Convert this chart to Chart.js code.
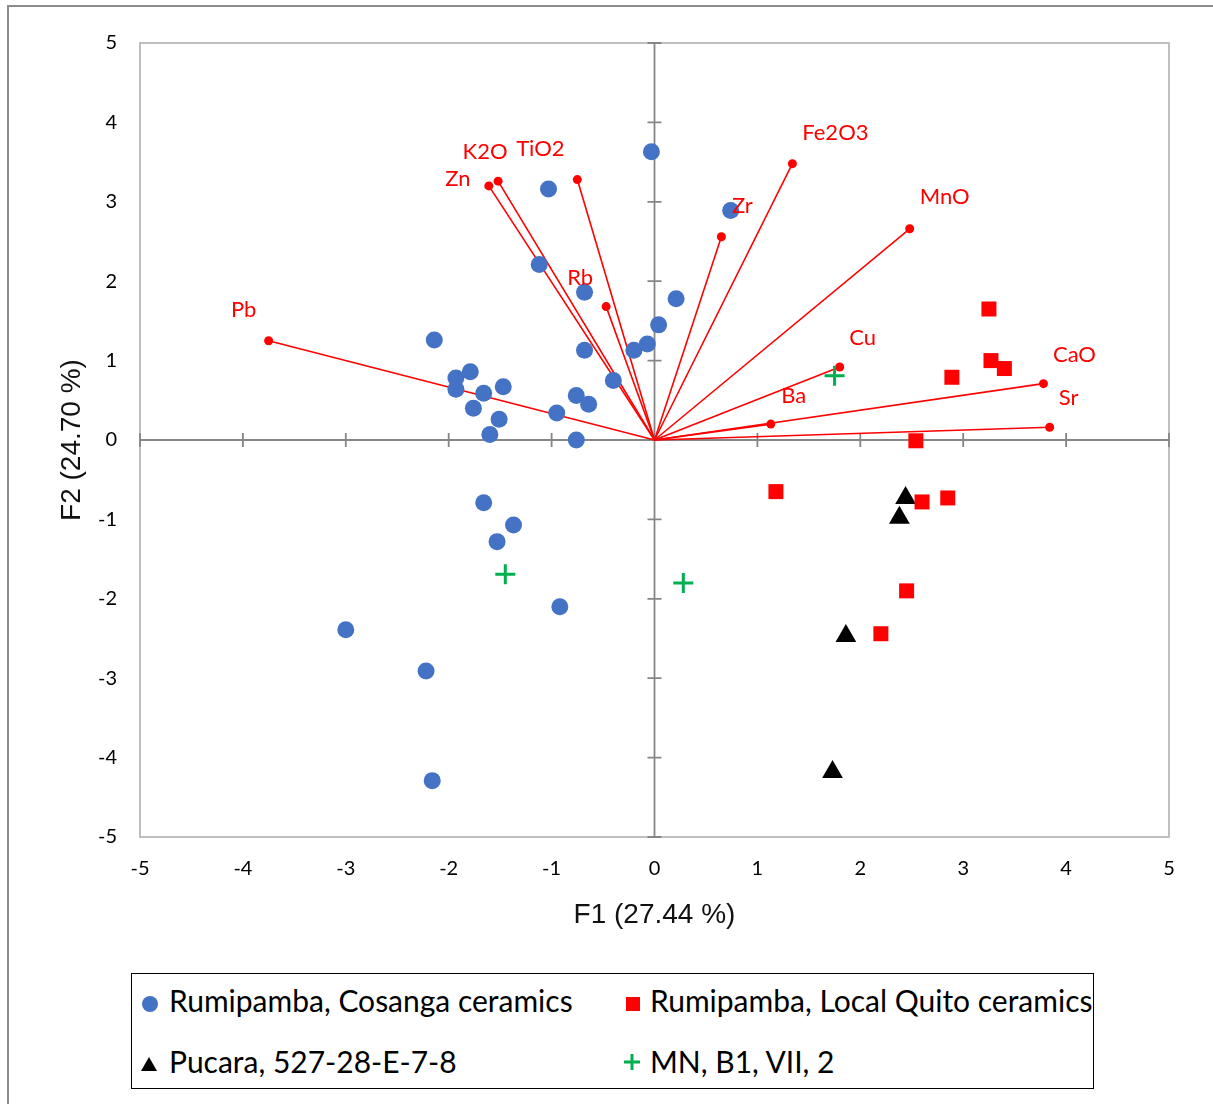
<!DOCTYPE html>
<html>
<head>
<meta charset="utf-8">
<script src="https://cdn.jsdelivr.net/npm/chart.js@4.4.0/dist/chart.umd.min.js"></script>
<style>
  body { margin: 0; background: #fff; width: 1213px; height: 1104px; overflow: hidden; position: relative; font-family: Lato, sans-serif; }
  #frame { position: absolute; left: 7px; top: 5px; width: 1240px; height: 1130px; border: 2px solid #8c8c8c; box-sizing: border-box; }
  #wrap { position: absolute; left: 0; top: 0; width: 1213px; height: 947px; }
  #legend { position: absolute; left: 131px; top: 973px; width: 963px; height: 116px; border: 1.5px solid #000; box-sizing: border-box; }
  .item { position: absolute; font-size: 30px; line-height: 30px; color: #000; white-space: nowrap; }
  .mk { position: absolute; }
</style>
</head>
<body>
<div id="frame"></div>
<div id="wrap"><canvas id="myCanvas" width="1213" height="947"></canvas></div>
<div id="legend">
  <svg class="mk" style="left:9px;top:21px" width="18" height="18"><circle cx="9" cy="9" r="8" fill="#4472c4"/></svg>
  <div class="item" style="left:37px;top:11px">Rumipamba, Cosanga ceramics</div>
  <svg class="mk" style="left:493px;top:22px" width="16" height="16"><rect x="1" y="1" width="14" height="14" fill="#ff0000"/></svg>
  <div class="item" style="left:518px;top:11px">Rumipamba, Local Quito ceramics</div>
  <svg class="mk" style="left:8px;top:81px" width="18" height="18"><polygon points="9,2 17,16 1,16" fill="#000"/></svg>
  <div class="item" style="left:37px;top:72px">Pucara, 527-28-E-7-8</div>
  <svg class="mk" style="left:491px;top:79px" width="18" height="18"><path d="M9 1 V17 M1 9 H17" stroke="#00b050" stroke-width="3"/></svg>
  <div class="item" style="left:518px;top:72px">MN, B1, VII, 2</div>
</div>
<script>
var cosangaX = [-0.03, -1.03, 0.74, -1.12, -0.68, 0.21, 0.04, -2.14, -0.68, -0.20, -0.07, -1.93, -1.79, -1.93, -1.66, -1.47, -1.76, -1.51, -1.60, -0.95, -0.76, -0.64, -0.40, -0.76, -1.66, -1.37, -1.53, -0.92, -3.00, -2.22, -2.16]
var cosangaY = [3.63, 3.16, 2.89, 2.21, 1.86, 1.78, 1.45, 1.26, 1.13, 1.13, 1.21, 0.78, 0.86, 0.64, 0.59, 0.67, 0.40, 0.26, 0.07, 0.34, 0.56, 0.45, 0.75, 0.00, -0.79, -1.07, -1.28, -2.10, -2.39, -2.91, -4.29]

var quitoX = [3.25, 3.27, 3.40, 2.89, 2.54, 1.18, 2.60, 2.85, 2.45, 2.20]
var quitoY = [1.65, 1.00, 0.90, 0.79, -0.01, -0.65, -0.78, -0.73, -1.90, -2.44]

var pucaraX = [2.44, 2.38, 1.86, 1.73]
var pucaraY = [-0.73, -0.98, -2.47, -4.18]

var mnX = [1.75, -1.45, 0.28]
var mnY = [0.81, -1.69, -1.80]

var varNames = ["Pb", "Zn", "K2O", "TiO2", "Rb", "Zr", "Fe2O3", "MnO", "Cu", "Ba", "CaO", "Sr"]
var varF1 = [-3.75, -1.61, -1.52, -0.75, -0.47, 0.65, 1.34, 2.48, 1.80, 1.13, 3.78, 3.84]
var varF2 = [1.25, 3.20, 3.26, 3.28, 1.68, 2.56, 3.48, 2.66, 0.92, 0.20, 0.71, 0.16]

var axisTicks = [-5, -4, -3, -2, -1, 0, 1, 2, 3, 4, 5]

// label offset from the arrow tip, in pixels
var labelOffset = {
  Pb: [-25, -31], Zn: [-31, -7], K2O: [-13, -29], TiO2: [-37, -31], Rb: [-26, -29], Zr: [21, -31],
  Fe2O3: [43, -31], MnO: [35, -32], Cu: [23, -29], Ba: [23, -28], CaO: [31, -29], Sr: [19, -29]
}

function pts(xs, ys) {
  return xs.map(function (x, i) { return { x: x, y: ys[i] } })
}

var datasets = [
  { label: "Rumipamba, Cosanga ceramics", data: pts(cosangaX, cosangaY), pointStyle: 'circle', pointRadius: 8.5, pointBorderWidth: 0, backgroundColor: '#4472c4', borderColor: '#4472c4' },
  { label: "Rumipamba, Local Quito ceramics", data: pts(quitoX, quitoY), pointStyle: 'rect', pointRadius: 10.6, pointBorderWidth: 0, backgroundColor: '#ff0000', borderColor: '#ff0000' },
  { label: "Pucara, 527-28-E-7-8", data: pts(pucaraX, pucaraY), pointStyle: 'triangle', pointRadius: 12, pointBorderWidth: 0, backgroundColor: '#000', borderColor: '#000' },
  { label: "MN, B1, VII, 2", data: pts(mnX, mnY), pointStyle: 'cross', pointRadius: 10, pointBorderWidth: 3, backgroundColor: '#00b050', borderColor: '#00b050' }
]

varNames.forEach(function (name, i) {
  datasets.push({
    label: name,
    data: [{ x: 0, y: 0 }, { x: varF1[i], y: varF2[i] }],
    showLine: true,
    borderColor: '#ff0000',
    borderWidth: 1.6,
    pointRadius: [0, 4.5],
    pointBorderWidth: 0,
    pointBackgroundColor: '#ff0000'
  })
})

var axesPlugin = {
  id: 'axesPlugin',
  beforeDatasetsDraw: function (chart) {
    var c = chart.ctx, a = chart.chartArea
    var xs = chart.scales.x, ys = chart.scales.y
    var x0 = xs.getPixelForValue(0), y0 = ys.getPixelForValue(0)
    c.save()
    c.strokeStyle = '#bfbfbf'
    c.lineWidth = 2
    c.strokeRect(a.left, a.top, a.right - a.left, a.bottom - a.top)
    c.strokeStyle = '#868686'
    c.lineWidth = 1.8
    c.beginPath()
    c.moveTo(a.left, y0); c.lineTo(a.right, y0)
    c.moveTo(x0, a.top); c.lineTo(x0, a.bottom)
    axisTicks.forEach(function (t) {
      if (t === 0) return
      var px = xs.getPixelForValue(t), py = ys.getPixelForValue(t)
      c.moveTo(px, y0 - 7); c.lineTo(px, y0 + 7)
      c.moveTo(x0 - 7, py); c.lineTo(x0 + 7, py)
    })
    c.stroke()
    c.restore()
  },
  afterDatasetsDraw: function (chart) {
    var c = chart.ctx
    var xs = chart.scales.x, ys = chart.scales.y
    c.save()
    c.fillStyle = '#ff0000'
    c.font = '22px Lato'
    c.textAlign = 'center'
    c.textBaseline = 'middle'
    varNames.forEach(function (name, i) {
      var off = labelOffset[name]
      c.fillText(name, xs.getPixelForValue(varF1[i]) + off[0], ys.getPixelForValue(varF2[i]) + off[1])
    })
    c.restore()
  }
}

var ctx = document.getElementById("myCanvas")
var myChart = new Chart(ctx, {
  type: 'scatter',
  data: { datasets: datasets },
  plugins: [axesPlugin],
  options: {
    responsive: false,
    animation: false,
    devicePixelRatio: 1,
    layout: { padding: { left: 0, top: 43, right: 44, bottom: 0 } },
    plugins: { legend: { display: false }, tooltip: { enabled: false } },
    scales: {
      x: {
        type: 'linear', min: -5, max: 5,
        ticks: { stepSize: 1, padding: 20, color: '#000', font: { family: 'Lato', size: 20 } },
        grid: { display: false, drawTicks: false },
        border: { display: false },
        title: { display: true, text: 'F1 (27.44 %)', color: '#111', font: { family: 'Liberation Sans', size: 28 }, padding: { top: 0, bottom: 15 } },
        afterFit: function (s) { s.height = 110 }
      },
      y: {
        type: 'linear', min: -5, max: 5,
        ticks: { stepSize: 1, padding: 23, color: '#000', font: { family: 'Lato', size: 20 } },
        grid: { display: false, drawTicks: false },
        border: { display: false },
        title: { display: true, text: 'F2 (24.70 %)', color: '#111', font: { family: 'Liberation Sans', size: 28 }, padding: { top: 55, bottom: 0 } },
        afterFit: function (s) { s.width = 140 }
      }
    }
  }
})
</script>
</body>
</html>
